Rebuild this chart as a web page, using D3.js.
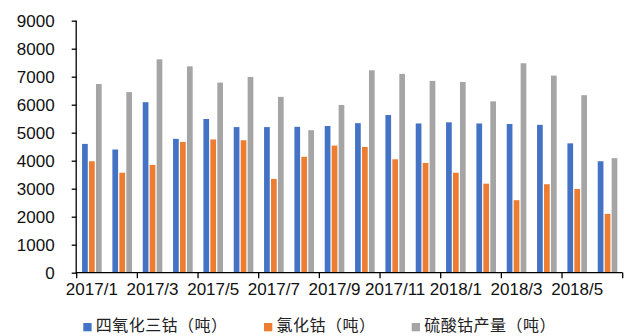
<!DOCTYPE html>
<html>
<head>
<meta charset="utf-8">
<script src="https://cdn.jsdelivr.net/npm/d3@7"></script>
<style>
  html, body { margin: 0; padding: 0; background: #fff; }
  svg { display: block; }
</style>
</head>
<body>
<svg id="chart" width="627" height="336"></svg>
<script>
const categories = ["2017/1","2017/2","2017/3","2017/4","2017/5","2017/6","2017/7","2017/8","2017/9","2017/10","2017/11","2017/12","2018/1","2018/2","2018/3","2018/4","2018/5","2018/6"];
const seriesNames = ["四氧化三钴（吨）", "氯化钴（吨）", "硫酸钴产量（吨）"];
const seriesColors = ["#4472C4", "#ED7D31", "#A5A5A5"];
const cobaltOxide = [4600, 4400, 6090, 4780, 5490, 5200, 5200, 5210, 5240, 5340, 5630, 5330, 5370, 5330, 5310, 5280, 4620, 3980];
const cobaltChloride = [3980, 3570, 3850, 4670, 4760, 4730, 3350, 4140, 4540, 4490, 4050, 3920, 3570, 3180, 2590, 3160, 2990, 2100];
const cobaltSulfate = [6740, 6450, 7620, 7370, 6790, 6990, 6280, 5090, 5990, 7230, 7100, 6850, 6810, 6120, 7480, 7040, 6340, 4090];
const yTicks = [0, 1000, 2000, 3000, 4000, 5000, 6000, 7000, 8000, 9000];

const seriesValues = [cobaltOxide, cobaltChloride, cobaltSulfate];

(function () {
const svg = d3.select("#chart");
const mLeft = 76.7, mRight = 622.7, mTop = 20.7, mBottom = 272.7;

const x = d3.scaleBand().domain(categories).range([mLeft, mRight]).padding(0);
const groupW = 19.6;
const x1 = d3.scaleBand().domain(d3.range(3)).range([-groupW / 2, groupW / 2]).paddingInner(0.18);
const y = d3.scaleLinear().domain([0, 9000]).range([mBottom, mTop]);

// bars
seriesValues.forEach((vals, si) => {
  svg.append("g").selectAll("rect").data(vals).join("rect")
    .attr("x", (d, i) => x(categories[i]) + x.bandwidth() / 2 + x1(si))
    .attr("y", d => y(d))
    .attr("width", x1.bandwidth())
    .attr("height", d => y(0) - y(d))
    .attr("fill", seriesColors[si]);
});

const fontNum = "'Liberation Sans', Arial, sans-serif";

// y axis
const yAxis = svg.append("g")
  .attr("transform", `translate(${mLeft},0)`)
  .call(d3.axisLeft(y).tickValues(yTicks).tickSize(5).tickPadding(17).tickFormat(d3.format("d")));
yAxis.select(".domain").attr("stroke", "#000").attr("stroke-width", 1.3).attr("d", `M-0.5,${mBottom}V${mTop}`);
yAxis.selectAll(".tick line").attr("stroke", "#000").attr("stroke-width", 1.3);
yAxis.selectAll(".tick text").attr("font-family", fontNum).attr("font-size", 17).attr("fill", "#111");

// x axis: labels every other category, ticks at every other category boundary
const labelCats = categories.filter((c, i) => i % 2 === 0);
const xAxis = svg.append("g")
  .attr("transform", `translate(0,${mBottom})`)
  .call(d3.axisBottom(x).tickValues(labelCats).tickSize(0).tickPadding(10));
xAxis.select(".domain").attr("stroke", "#000").attr("stroke-width", 1.3).attr("d", `M${mLeft - 1},0H${mRight}`);
xAxis.selectAll(".tick text").attr("font-family", fontNum).attr("font-size", 17).attr("fill", "#111");
const tickPos = labelCats.map(c => x(c)).concat([mRight]);
xAxis.append("g").selectAll("line").data(tickPos).join("line")
  .attr("x1", d => d).attr("x2", d => d)
  .attr("y1", 0).attr("y2", 5.5)
  .attr("stroke", "#000").attr("stroke-width", 1.3);

// legend
const legendX = [83.3, 264, 411.7];
const charW = 16.4;
const legend = svg.append("g");
seriesNames.forEach((name, i) => {
  legend.append("rect")
    .attr("x", legendX[i]).attr("y", 323)
    .attr("width", 8.3).attr("height", 8.3)
    .attr("fill", seriesColors[i]);
  legend.append("text")
    .attr("x", legendX[i] + 12.5).attr("y", 331.2)
    .attr("font-family", "'Noto Sans CJK SC', sans-serif")
    .attr("font-size", 16)
    .attr("textLength", name.length * charW)
    .attr("lengthAdjust", "spacing")
    .attr("fill", "#222")
    .text(name);
});
})();
</script>
</body>
</html>
